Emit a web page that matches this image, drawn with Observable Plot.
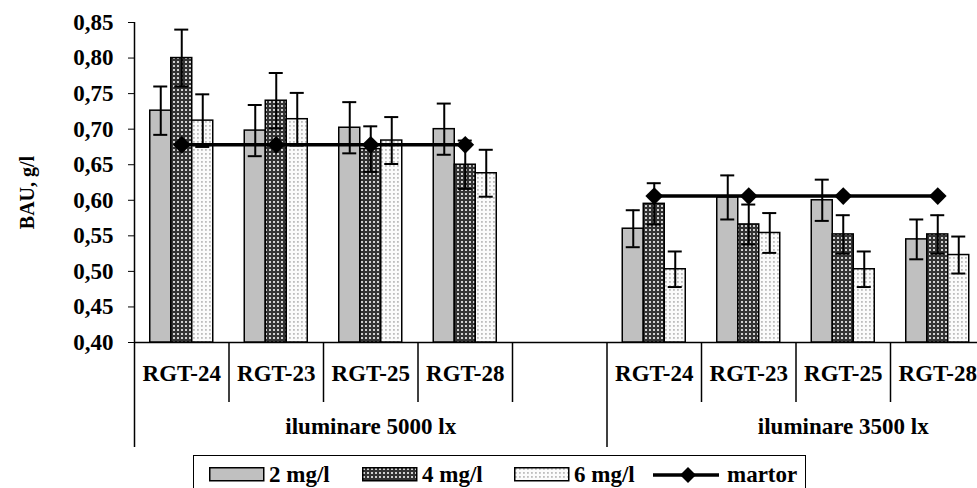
<!DOCTYPE html>
<html>
<head>
<meta charset="utf-8">
<script src="https://cdn.jsdelivr.net/npm/d3@7"></script>
<script src="https://cdn.jsdelivr.net/npm/@observablehq/plot@0.6"></script>
<style>
  html, body { margin: 0; padding: 0; background: #fff; overflow: hidden; }
  #wrap { position: relative; width: 977px; height: 488px; overflow: hidden; background: #fff;
          font-family: "Liberation Serif", "Times New Roman", serif; font-weight: bold; color: #000; }
  #legend { position: absolute; left: 193px; top: 455px; width: 613px; height: 45px;
            border: 1.5px solid #000; box-sizing: border-box; background: #fff; }
  .item { position: absolute; top: 7px; font-size: 23px; line-height: 23px; white-space: nowrap; }
  .sw { position: absolute; top: 11px; }
</style>
</head>
<body>
<svg width="0" height="0" style="position:absolute">
  <defs>
    <pattern id="pat4" width="4" height="4" patternUnits="userSpaceOnUse">
      <rect width="4" height="4" fill="#333333"/>
      <rect x="1" y="1" width="2" height="2" fill="#cfcfcf"/>
    </pattern>
    <pattern id="pat6" width="4" height="4" patternUnits="userSpaceOnUse">
      <rect width="4" height="4" fill="#fbfbfb"/>
      <rect x="1" y="1" width="1.8" height="1.8" fill="#bdbdbd"/>
    </pattern>
  </defs>
</svg>
<div id="wrap"><div id="legend"></div></div>
<script>
// ---------- data ----------
const groups = ["iluminare 5000 lx", "iluminare 3500 lx"];
const hybrids = ["RGT-24", "RGT-23", "RGT-25", "RGT-28"];
const concentrations = ["2 mg/l", "4 mg/l", "6 mg/l"];
const martorLabel = "martor";
const yLabel = "BAU, g/l";
const yTicks = [0.40, 0.45, 0.50, 0.55, 0.60, 0.65, 0.70, 0.75, 0.80, 0.85];

// iluminare 5000 lx (order: RGT-24, RGT-23, RGT-25, RGT-28)
const bau5000_2 = [0.726, 0.698, 0.702, 0.700];
const bau5000_4 = [0.800, 0.740, 0.672, 0.650];
const bau5000_6 = [0.712, 0.714, 0.684, 0.638];
const err5000_2 = [0.034, 0.036, 0.036, 0.036];
const err5000_4 = [0.040, 0.039, 0.032, 0.034];
const err5000_6 = [0.037, 0.037, 0.033, 0.033];
// iluminare 3500 lx
const bau3500_2 = [0.560, 0.604, 0.600, 0.545];
const bau3500_4 = [0.595, 0.566, 0.552, 0.552];
const bau3500_6 = [0.503, 0.554, 0.503, 0.523];
const err3500_2 = [0.026, 0.031, 0.029, 0.028];
const err3500_4 = [0.029, 0.028, 0.027, 0.027];
const err3500_6 = [0.025, 0.028, 0.025, 0.026];
// martor (control) per illumination
const martor = [0.678, 0.606];

// ---------- styles ----------
const fills = ["#c0c0c0", "url(#pat4)", "url(#pat6)"];
const font = '"Liberation Serif", "Times New Roman", serif';

// ---------- build tables ----------
const values = [[bau5000_2, bau5000_4, bau5000_6], [bau3500_2, bau3500_4, bau3500_6]];
const errors = [[err5000_2, err5000_4, err5000_6], [err3500_2, err3500_4, err3500_6]];
const slotKey = (g, h) => g + " | " + h;
const groupSlots = groups.map(g => [...hybrids.map(h => slotKey(g, h)), slotKey(g, "")]);
const slots = groupSlots.flat();

const rows = [];
groups.forEach((g, gi) => hybrids.forEach((h, hi) => concentrations.forEach((c, ci) => {
  rows.push({group: g, hybrid: h, conc: c, ci, slot: slotKey(g, h),
             value: values[gi][ci][hi], err: errors[gi][ci][hi]});
})));
const martorRows = groups.flatMap((g, gi) => hybrids.map(h => ({group: g, slot: slotKey(g, h), value: martor[gi]})));
const labelRows = groups.flatMap(g => hybrids.map(h => ({slot: slotKey(g, h), text: h})));
const groupRows = groups.map(g => ({slot: slotKey(g, hybrids[2]), text: g}));

// ---------- geometry ----------
const width = 1080, marginLeft = 134, marginRight = 1;
const bw = (width - marginLeft - marginRight) / slots.length; // band width
const barW = 21;
const side = (bw - 3 * barW) / 2;
const frameH = 320;

const marks = [];
// category axis structure
marks.push(Plot.ruleY([yTicks[0]], {stroke: "#000", strokeWidth: 1.5}));
marks.push(Plot.ruleX([slots[0]], {dx: -bw / 2, insetBottom: -105, stroke: "#000", strokeWidth: 1.5}));
marks.push(Plot.ruleX(groupSlots.slice(1).map(s => s[0]), {dx: -bw / 2, insetTop: frameH, insetBottom: -105, stroke: "#000", strokeWidth: 1.5}));
marks.push(Plot.ruleX([slots[slots.length - 1]], {dx: bw / 2, insetTop: frameH, insetBottom: -105, stroke: "#000", strokeWidth: 1.5}));
marks.push(Plot.ruleX(groupSlots.flatMap(s => s.slice(1)), {dx: -bw / 2, insetTop: frameH, insetBottom: -60, stroke: "#000", strokeWidth: 1.5}));

// bars
concentrations.forEach((c, ci) => {
  const sub = rows.filter(r => r.ci === ci);
  marks.push(Plot.barY(sub, {
    x: "slot", y1: () => yTicks[0], y2: "value",
    fill: fills[ci], stroke: "#000", strokeWidth: 1.5,
    insetLeft: side + ci * barW, insetRight: bw - side - (ci + 1) * barW
  }));
});
// error bars
concentrations.forEach((c, ci) => {
  const sub = rows.filter(r => r.ci === ci);
  const dx = (ci - 1) * barW;
  marks.push(Plot.ruleX(sub, {x: "slot", y1: d => d.value - d.err, y2: d => d.value + d.err, dx, stroke: "#000", strokeWidth: 2}));
  const capL = bw / 2 + dx - 7, capR = bw - (bw / 2 + dx + 7);
  marks.push(Plot.tickY(sub, {x: "slot", y: d => d.value + d.err, insetLeft: capL, insetRight: capR, stroke: "#000", strokeWidth: 2}));
  marks.push(Plot.tickY(sub, {x: "slot", y: d => d.value - d.err, insetLeft: capL, insetRight: capR, stroke: "#000", strokeWidth: 2}));
});
// martor
marks.push(Plot.line(martorRows, {x: "slot", y: "value", z: "group", stroke: "#000", strokeWidth: 3.5}));
marks.push(Plot.dot(martorRows, {x: "slot", y: "value", symbol: "diamond2", r: 8, fill: "#000", stroke: "none"}));

// labels
marks.push(Plot.text(labelRows, {x: "slot", text: "text", frameAnchor: "bottom", dy: 38}));
marks.push(Plot.text(groupRows, {x: "slot", text: "text", frameAnchor: "bottom", dy: 91}));
marks.push(Plot.text([yLabel], {text: d => d, frameAnchor: "left", textAnchor: "middle", rotate: -90, dx: -107, dy: 10, fontSize: "20px"}));

const chart = Plot.plot({
  width, height: 452,
  marginLeft, marginRight, marginTop: 22, marginBottom: 110,
  style: {fontFamily: font, fontSize: "23px", fontWeight: "bold", background: "#fff", color: "#000", maxWidth: "none", overflow: "hidden"},
  x: {domain: slots, padding: 0, round: false, axis: null},
  y: {domain: [yTicks[0], yTicks[yTicks.length - 1]], ticks: yTicks,
      tickFormat: d => d.toFixed(2).replace(".", ","), tickSize: 6, tickPadding: 15, label: null},
  marks
});
const wrap = document.getElementById("wrap");
wrap.insertBefore(chart, wrap.firstChild);

// ---------- legend ----------
const legend = document.getElementById("legend");
const swLeft = [15, 168, 320];
concentrations.forEach((c, ci) => {
  const sw = document.createElementNS("http://www.w3.org/2000/svg", "svg");
  sw.setAttribute("class", "sw");
  sw.setAttribute("width", 56); sw.setAttribute("height", 15);
  sw.style.left = swLeft[ci] + "px";
  sw.innerHTML = `<rect x="0.75" y="0.75" width="54" height="13" fill="${fills[ci]}" stroke="#000" stroke-width="1.5"/>`;
  legend.appendChild(sw);
  const t = document.createElement("span");
  t.className = "item"; t.style.left = (swLeft[ci] + 60) + "px"; t.textContent = c;
  legend.appendChild(t);
});
const ms = document.createElementNS("http://www.w3.org/2000/svg", "svg");
ms.setAttribute("class", "sw");
ms.setAttribute("width", 66); ms.setAttribute("height", 20);
ms.style.left = "459px"; ms.style.top = "9px";
ms.innerHTML = `<line x1="0" y1="10" x2="66" y2="10" stroke="#000" stroke-width="3.5"/><path d="M35,2 L43,10 L35,18 L27,10 Z" fill="#000"/>`;
legend.appendChild(ms);
const mt = document.createElement("span");
mt.className = "item"; mt.style.left = "533px"; mt.textContent = martorLabel;
legend.appendChild(mt);
</script>
</body>
</html>
